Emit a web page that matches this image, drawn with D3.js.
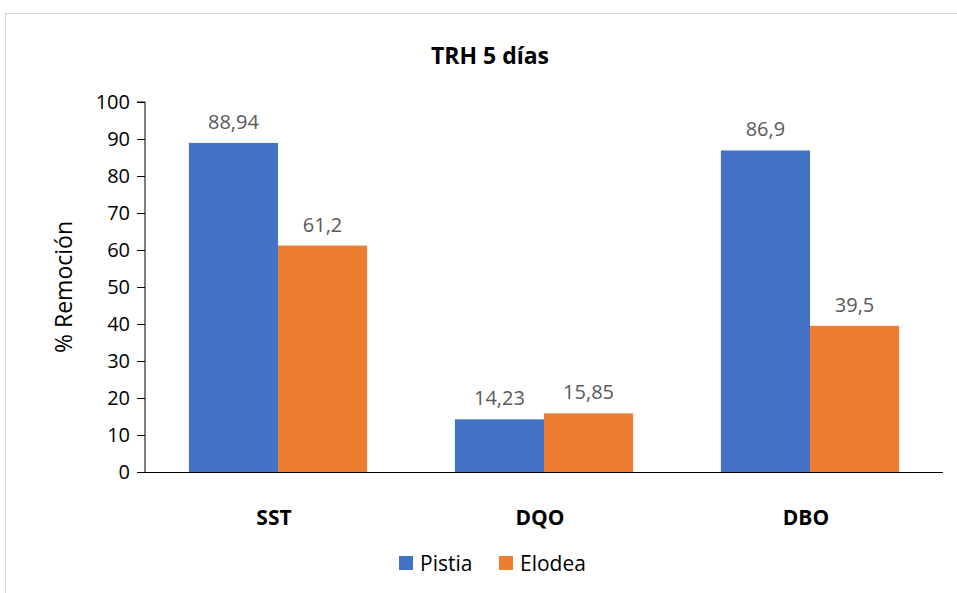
<!DOCTYPE html>
<html>
<head>
<meta charset="utf-8">
<script src="https://cdn.jsdelivr.net/npm/d3@7"></script>
<style>
  body { margin: 0; background: #fff; }
  text { font-family: "Open Sans", "Noto Sans", sans-serif; }
</style>
</head>
<body>
<script>
// data
var categories = ["SST", "DQO", "DBO"];
var series = ["Pistia", "Elodea"];
var pistia = [88.94, 14.23, 86.9];
var elodea = [61.2, 15.85, 39.5];
var labelsPistia = ["88,94", "14,23", "86,9"];
var labelsElodea = ["61,2", "15,85", "39,5"];
var yTicks = [0, 10, 20, 30, 40, 50, 60, 70, 80, 90, 100];
var colors = ["#4472c4", "#ed7d31"];

var W = 957, H = 593;
var svg = d3.select("body").append("svg")
    .attr("width", W)
    .attr("height", H);

// chart area border
svg.append("rect")
    .attr("x", 5.5).attr("y", 13.5)
    .attr("width", W + 10).attr("height", H + 10)
    .attr("fill", "none")
    .attr("stroke", "#d9d9d9");

var pLeft = 145, pRight = 943, pTop = 102, pBottom = 472;

var x = d3.scaleBand().domain(categories).range([pLeft, pRight]).paddingInner(0.33).paddingOuter(0.165);
var xs = d3.scaleBand().domain(series).range([0, x.bandwidth()]);
var y = d3.scaleLinear().domain([0, 100]).range([pBottom, pTop]);

// title
svg.append("text")
    .attr("x", 490).attr("y", 64)
    .attr("text-anchor", "middle")
    .style("font-size", "23px").style("font-weight", "bold")
    .text("TRH 5 días");

// y axis
var yAxis = svg.append("g")
    .attr("transform", "translate(" + pLeft + ",0)")
    .call(d3.axisLeft(y).tickValues(yTicks).tickSize(8).tickPadding(7));
yAxis.select(".domain").attr("stroke", "#000").attr("d", "M-8," + pTop + "H0V" + pBottom);
yAxis.selectAll(".tick line").attr("stroke", "#000");
yAxis.selectAll("text").style("font-size", "20px").attr("fill", "#000")
    .style("font-family", "'Open Sans', sans-serif");

// x axis line
svg.append("line")
    .attr("x1", pLeft).attr("x2", pRight)
    .attr("y1", pBottom + 0.5).attr("y2", pBottom + 0.5)
    .attr("stroke", "#000");

// y axis title
svg.append("text")
    .attr("transform", "translate(72," + ((pTop + pBottom) / 2) + ") rotate(-90)")
    .attr("text-anchor", "middle")
    .style("font-size", "23px")
    .text("% Remoción");

// bars
var rows = categories.map(function(c, i) {
    return [
        {cat: c, s: "Pistia", v: pistia[i], lab: labelsPistia[i], col: colors[0]},
        {cat: c, s: "Elodea", v: elodea[i], lab: labelsElodea[i], col: colors[1]}
    ];
});
var flat = [].concat.apply([], rows);

svg.selectAll(".bar").data(flat)
    .enter().append("rect")
    .attr("class", "bar")
    .attr("x", function(d) { return x(d.cat) + xs(d.s); })
    .attr("width", xs.bandwidth())
    .attr("y", function(d) { return y(d.v); })
    .attr("height", function(d) { return pBottom - y(d.v); })
    .attr("fill", function(d) { return d.col; });

// value labels
svg.selectAll(".lab").data(flat)
    .enter().append("text")
    .attr("class", "lab")
    .attr("x", function(d) { return x(d.cat) + xs(d.s) + xs.bandwidth() / 2; })
    .attr("y", function(d) { return y(d.v) - 14; })
    .attr("text-anchor", "middle")
    .attr("fill", "#595959")
    .style("font-size", "20px")
    .text(function(d) { return d.lab; });

// category labels
svg.selectAll(".cat").data(categories)
    .enter().append("text")
    .attr("class", "cat")
    .attr("x", function(d) { return x(d) + x.bandwidth() / 2 - 4; })
    .attr("y", 525)
    .attr("text-anchor", "middle")
    .style("font-size", "21px").style("font-weight", "bold")
    .text(function(d) { return d; });

// legend
var legX = [399, 499];
var leg = svg.selectAll(".leg").data(series)
    .enter().append("g")
    .attr("class", "leg")
    .attr("transform", function(d, i) { return "translate(" + legX[i] + ",556)"; });
leg.append("rect").attr("width", 14).attr("height", 14)
    .attr("fill", function(d, i) { return colors[i]; });
leg.append("text").attr("x", 21).attr("y", 15)
    .style("font-size", "21px")
    .text(function(d) { return d; });
</script>
</body>
</html>
